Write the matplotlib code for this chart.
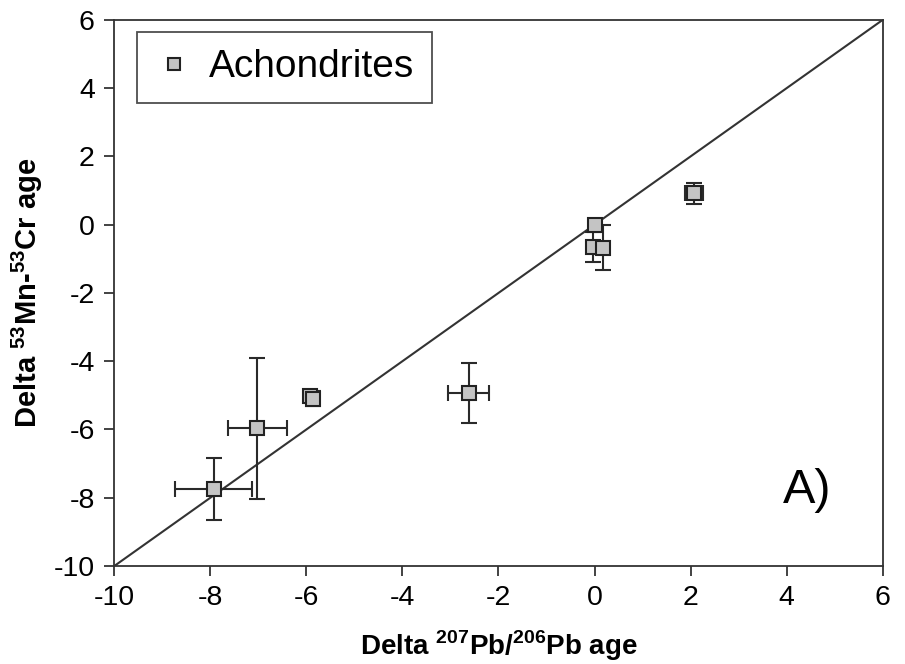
import numpy as np
import matplotlib
matplotlib.use("Agg")
import matplotlib.pyplot as plt

plt.rcParams['font.family'] = ['Liberation Sans', 'DejaVu Sans']
plt.rcParams['mathtext.fontset'] = 'custom'
plt.rcParams['mathtext.rm'] = 'Liberation Sans'
plt.rcParams['mathtext.bf'] = 'Liberation Sans:bold'
plt.rcParams['axes.unicode_minus'] = False

# achondrite ages relative to the reference (Myr)
delta_pb = [-7.93, -7.02, -5.92, -5.87, -2.62, 0.0, -0.03, 0.18, 2.07]
delta_pb_err = [0.80, 0.62, 0.05, 0.12, 0.43, 0.05, 0.10, 0.12, 0.18]
delta_mn = [-7.75, -5.97, -5.02, -5.10, -4.93, 0.0, -0.64, -0.67, 0.92]
delta_mn_err = [0.90, 2.07, 0.10, 0.22, 0.87, 0.05, 0.44, 0.67, 0.31]

fig = plt.figure(figsize=(9.05, 6.64), dpi=100)
ax = fig.add_axes([0.1263, 0.1476, 0.849, 0.8224])

# 1:1 line
ax.plot([-10, 6], [-10, 6], color='#333333', lw=1.5, zorder=1)

ax.errorbar(delta_pb, delta_mn, xerr=delta_pb_err, yerr=delta_mn_err,
            fmt='none', ecolor='#2a2a2a', elinewidth=1.5, capsize=6,
            capthick=1.5, zorder=2)
ax.plot(delta_pb, delta_mn, 's', ms=9.5, mfc='#c4c4c4', mec='#222222',
        mew=1.5, ls='none', label='Achondrites', zorder=3)

ax.set_xlim(-10, 6)
ax.set_ylim(-10, 6)
ax.set_xticks(np.arange(-10, 7, 2))
ax.set_yticks(np.arange(-10, 7, 2))
ax.tick_params(direction='out', length=7, width=1.2, labelsize=20.5,
               colors='#222222', labelcolor='black', pad=7)
for s in ax.spines.values():
    s.set_linewidth(1.3)
    s.set_color('#333333')

ax.set_xlabel(r'Delta $^{\mathbf{207}}$Pb/$^{\mathbf{206}}$Pb age',
              fontsize=20, fontweight='bold', labelpad=12)
ax.set_ylabel(r'Delta $^{\mathbf{53}}$Mn-$^{\mathbf{53}}$Cr age',
              fontsize=21, fontweight='bold', labelpad=6)

ax.text(4.42, -7.79, 'A)', fontsize=35, ha='center', va='center')

leg = ax.legend(loc='upper left', bbox_to_anchor=(0.0295, 0.978), fontsize=28,
                frameon=True, fancybox=False, borderpad=0.45,
                handlelength=1.0, handletextpad=0.4, borderaxespad=0.0,
                markerscale=0.9)
leg.get_frame().set_edgecolor('#222222')
leg.get_frame().set_linewidth(1.3)

fig.savefig('out.png', dpi=100)
